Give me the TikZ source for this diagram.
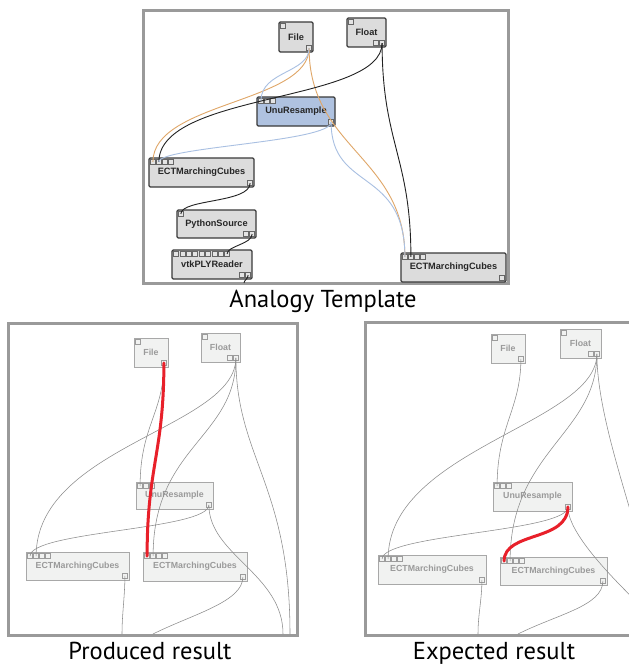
\documentclass[tikz,border=0pt]{standalone}
\usepackage{fontspec}
\setmainfont{Liberation Sans}
\newfontfamily\capfont{PT Sans}
\usetikzlibrary{calc}

\definecolor{tfill}{HTML}{DCDCDC}
\definecolor{tborder}{HTML}{3A3A3A}
\definecolor{ufill}{HTML}{AFC2E0}
\definecolor{gfill}{HTML}{F1F2F1}
\definecolor{gborder}{HTML}{A8A8A8}
\definecolor{gtext}{HTML}{9A9A9A}
\definecolor{tportdraw}{HTML}{666666}
\definecolor{tportfill}{HTML}{E4E4E4}
\definecolor{gportdraw}{HTML}{9C9C9C}
\definecolor{panelc}{HTML}{9A9A9A}
\definecolor{wireorange}{HTML}{E0A768}
\definecolor{wireblue}{HTML}{A9C0E2}
\definecolor{wireblack}{HTML}{222222}
\definecolor{wiregray}{HTML}{8C8C8C}
\definecolor{wirered}{HTML}{E8202A}

\tikzset{
  tnode/.style={draw=tborder, fill=tfill, line width=1.2pt, rounded corners=1.2pt,
    inner sep=0pt, font=\fontsize{9.2}{10}\selectfont\bfseries, text=black!85},
  unode/.style={tnode, fill=ufill},
  gnode/.style={draw=gborder, fill=gfill, line width=0.8pt, inner sep=0pt,
    font=\fontsize{8.8}{10}\selectfont\bfseries, text=gtext},
  tport/.style={draw=tportdraw, fill=tportfill, line width=0.5pt},
  gport/.style={draw=gportdraw, fill=gfill, line width=0.45pt},
  panel/.style={draw=panelc, line width=3pt},
  caption/.style={font=\capfont\fontsize{24.5}{28}\selectfont, anchor=base, inner sep=0pt},
  orangew/.style={draw=wireorange, line width=0.9pt},
  bluew/.style={draw=wireblue, line width=0.9pt},
  blackw/.style={draw=wireblack, line width=0.9pt},
  grayw/.style={draw=wiregray, line width=0.55pt},
  redw/.style={draw=wirered, line width=3pt, line cap=round},
}

% #1 style, #2 node, #3 count, #4 pitch
\newcommand\inports[4]{%
  \foreach \k in {1,...,#3}{%
    \coordinate (#2-i\k) at ($(#2.north west)+({4.5+#4*(\k-1)},4.5)$);
    \draw[#1] ($(#2-i\k)+(-2.5,-2.5)$) rectangle ++(5,5);
  }}
\newcommand\outports[4]{%
  \foreach \k in {1,...,#3}{%
    \coordinate (#2-o\k) at ($(#2.south east)+({-4.5-#4*(#3-\k)},-4.5)$);
    \draw[#1] ($(#2-o\k)+(-2.5,-2.5)$) rectangle ++(5,5);
  }}

\begin{document}
\begin{tikzpicture}[x=1pt,y=-1pt]
\useasboundingbox (0,0) rectangle (629,667);
\clip (0,0) rectangle (629,667);
\fill[white] (0,0) rectangle (629,667);

% ================= Panel frames =================
\draw[panel] (143,10) rectangle (508,283);
\draw[panel] (8,323) rectangle (297,635);
\draw[panel] (365,322) rectangle (720,635);

% ================= Top panel: Analogy Template =================
\node[tnode, minimum width=34, minimum height=30] (file) at (296,37) {File};
\node[tnode, minimum width=39, minimum height=29] (float) at (366.5,32.5) {Float};
\node[unode, minimum width=78, minimum height=29] (unu) at (296,111.5) {UnuResample};
\node[tnode, minimum width=105, minimum height=29] (ectL) at (201.5,172.5) {ECTMarchingCubes};
\node[tnode, minimum width=79, minimum height=28] (py) at (216.5,224) {PythonSource};
\node[tnode, minimum width=80, minimum height=29] (vtk) at (212,264.5) {vtkPLYReader};
\node[tnode, minimum width=105, minimum height=29] (ectR) at (453.5,267.5) {ECTMarchingCubes};

\inports{tport}{file}{1}{6}   \outports{tport}{file}{1}{6}
\inports{tport}{float}{1}{6}  \outports{tport}{float}{2}{6.5}
\inports{tport}{unu}{3}{6}    \outports{tport}{unu}{1}{6}
\inports{tport}{ectL}{4}{6}   \outports{tport}{ectL}{1}{6}
\inports{tport}{py}{1}{6}     \outports{tport}{py}{2}{6}
\inports{tport}{vtk}{9}{6.4}  \outports{tport}{vtk}{2}{6}
\inports{tport}{ectR}{4}{6}   \outports{tport}{ectR}{1}{6}

\coordinate (tbot) at (244,283);

\draw[orangew] (file-o1) .. controls +(0,55) and +(0,-60) .. (ectL-i1);
\draw[orangew] (file-o1) .. controls +(0,100) and +(0,-100) .. (ectR-i1);
\draw[bluew] (file-o1) .. controls +(0,25) and +(0,-30) .. (unu-i1);
\draw[blackw] (float-o2) .. controls +(0,60) and +(0,-70) .. (ectL-i2);
\draw[blackw] (float-o2) .. controls +(0,100) and +(0,-100) .. (ectR-i2);
\draw[bluew] (unu-o1) .. controls +(0,20) and +(0,-15) .. (ectL-i2);
\draw[bluew] (unu-o1) .. controls +(0,70) and +(0,-90) .. (ectR-i1);
\draw[blackw] (ectL-o1) .. controls +(0,20) and +(0,-15) .. (py-i1);
\draw[blackw] (py-o2) .. controls +(0,10) and +(0,-8) .. (vtk-i9);
\draw[blackw] (vtk-o2) .. controls +(0,4) and +(0,-3) .. (tbot);

\node[caption] (capA) at (323,307) {Analogy Template};

% ================= Bottom left: Produced result =================
\node[gnode, minimum width=34, minimum height=29] (fileP) at (151,352.5) {File};
\node[gnode, minimum width=39, minimum height=29] (floatP) at (220.5,347.5) {Float};
\node[gnode, minimum width=77, minimum height=27] (unuP) at (174.5,495.5) {UnuResample};
\node[gnode, minimum width=103, minimum height=28] (ectLP) at (77.5,566) {ECTMarchingCubes};
\node[gnode, minimum width=104, minimum height=29] (ectRP) at (195,566.5) {ECTMarchingCubes};

\inports{gport}{fileP}{1}{6}   \outports{gport}{fileP}{1}{6}
\inports{gport}{floatP}{1}{6}  \outports{gport}{floatP}{2}{6.5}
\inports{gport}{unuP}{3}{6}    \outports{gport}{unuP}{1}{6}
\inports{gport}{ectLP}{4}{6}   \outports{gport}{ectLP}{1}{6}
\inports{gport}{ectRP}{4}{6}   \outports{gport}{ectRP}{1}{6}

\coordinate (pb1) at (290,634);
\coordinate (pb2) at (283,634);
\coordinate (pb3) at (122,634);
\coordinate (pb4) at (153,634);

\draw[grayw] (fileP-o1) .. controls +(0,50) and +(0,-60) .. (unuP-i1);
\draw[grayw] (floatP-o2) .. controls +(0,70) and +(0,-110) .. (ectLP-i2);
\draw[grayw] (floatP-o2) .. controls +(0,80) and +(0,-110) .. (ectRP-i2);
\draw[grayw] (floatP-o2) .. controls +(0,100) and +(0,-150) .. (pb1);
\draw[grayw] (unuP-o1) .. controls +(0,25) and +(0,-25) .. (ectLP-i1);
\draw[grayw] (unuP-o1) .. controls +(0,50) and +(0,-60) .. (pb2);
\draw[grayw] (ectLP-o1) .. controls +(0,20) and +(0,-20) .. (pb3);
\draw[grayw] (ectRP-o1) .. controls +(0,25) and +(40,-20) .. (pb4);
\draw[redw] (fileP-o1) .. controls +(0,90) and +(0,-90) .. (ectRP-i1);

\node[caption] (capP) at (150,659) {Produced result};

% ================= Bottom right: Expected result =================
\node[gnode, minimum width=34, minimum height=29] (fileE) at (508,348.5) {File};
\node[gnode, minimum width=41, minimum height=29] (floatE) at (580.5,343.5) {Float};
\node[gnode, minimum width=79, minimum height=29] (unuE) at (532.5,496.5) {UnuResample};
\node[gnode, minimum width=108, minimum height=29] (ectLE) at (432,569.5) {ECTMarchingCubes};
\node[gnode, minimum width=107, minimum height=28] (ectRE) at (553.5,571) {ECTMarchingCubes};

\inports{gport}{fileE}{1}{6}   \outports{gport}{fileE}{1}{6}
\inports{gport}{floatE}{1}{6}  \outports{gport}{floatE}{2}{6.5}
\inports{gport}{unuE}{3}{6}    \outports{gport}{unuE}{1}{6}
\inports{gport}{ectLE}{4}{6}   \outports{gport}{ectLE}{1}{6}
\inports{gport}{ectRE}{4}{6}   \outports{gport}{ectRE}{1}{6}

\coordinate (eb1) at (644,560);
\coordinate (eb2) at (650,615);
\coordinate (eb3) at (478,634);
\coordinate (eb4) at (518,634);

\draw[grayw] (fileE-o1) .. controls +(0,50) and +(0,-60) .. (unuE-i1);
\draw[grayw] (floatE-o2) .. controls +(0,70) and +(0,-110) .. (ectLE-i2);
\draw[grayw] (floatE-o2) .. controls +(0,80) and +(0,-110) .. (ectRE-i2);
\draw[grayw] (floatE-o2) .. controls +(0,60) and +(-15,-60) .. (eb1);
\draw[grayw] (unuE-o1) .. controls +(0,25) and +(0,-25) .. (ectLE-i1);
\draw[grayw] (unuE-o1) .. controls +(0,30) and +(-25,-25) .. (eb2);
\draw[grayw] (ectLE-o1) .. controls +(0,20) and +(0,-20) .. (eb3);
\draw[grayw] (ectRE-o1) .. controls +(0,25) and +(40,-20) .. (eb4);
\draw[redw] (unuE-o1) .. controls +(0,35) and +(0,-30) .. (ectRE-i1);

\node[caption] (capE) at (494,659) {Expected result};
\end{tikzpicture}
\end{document}
